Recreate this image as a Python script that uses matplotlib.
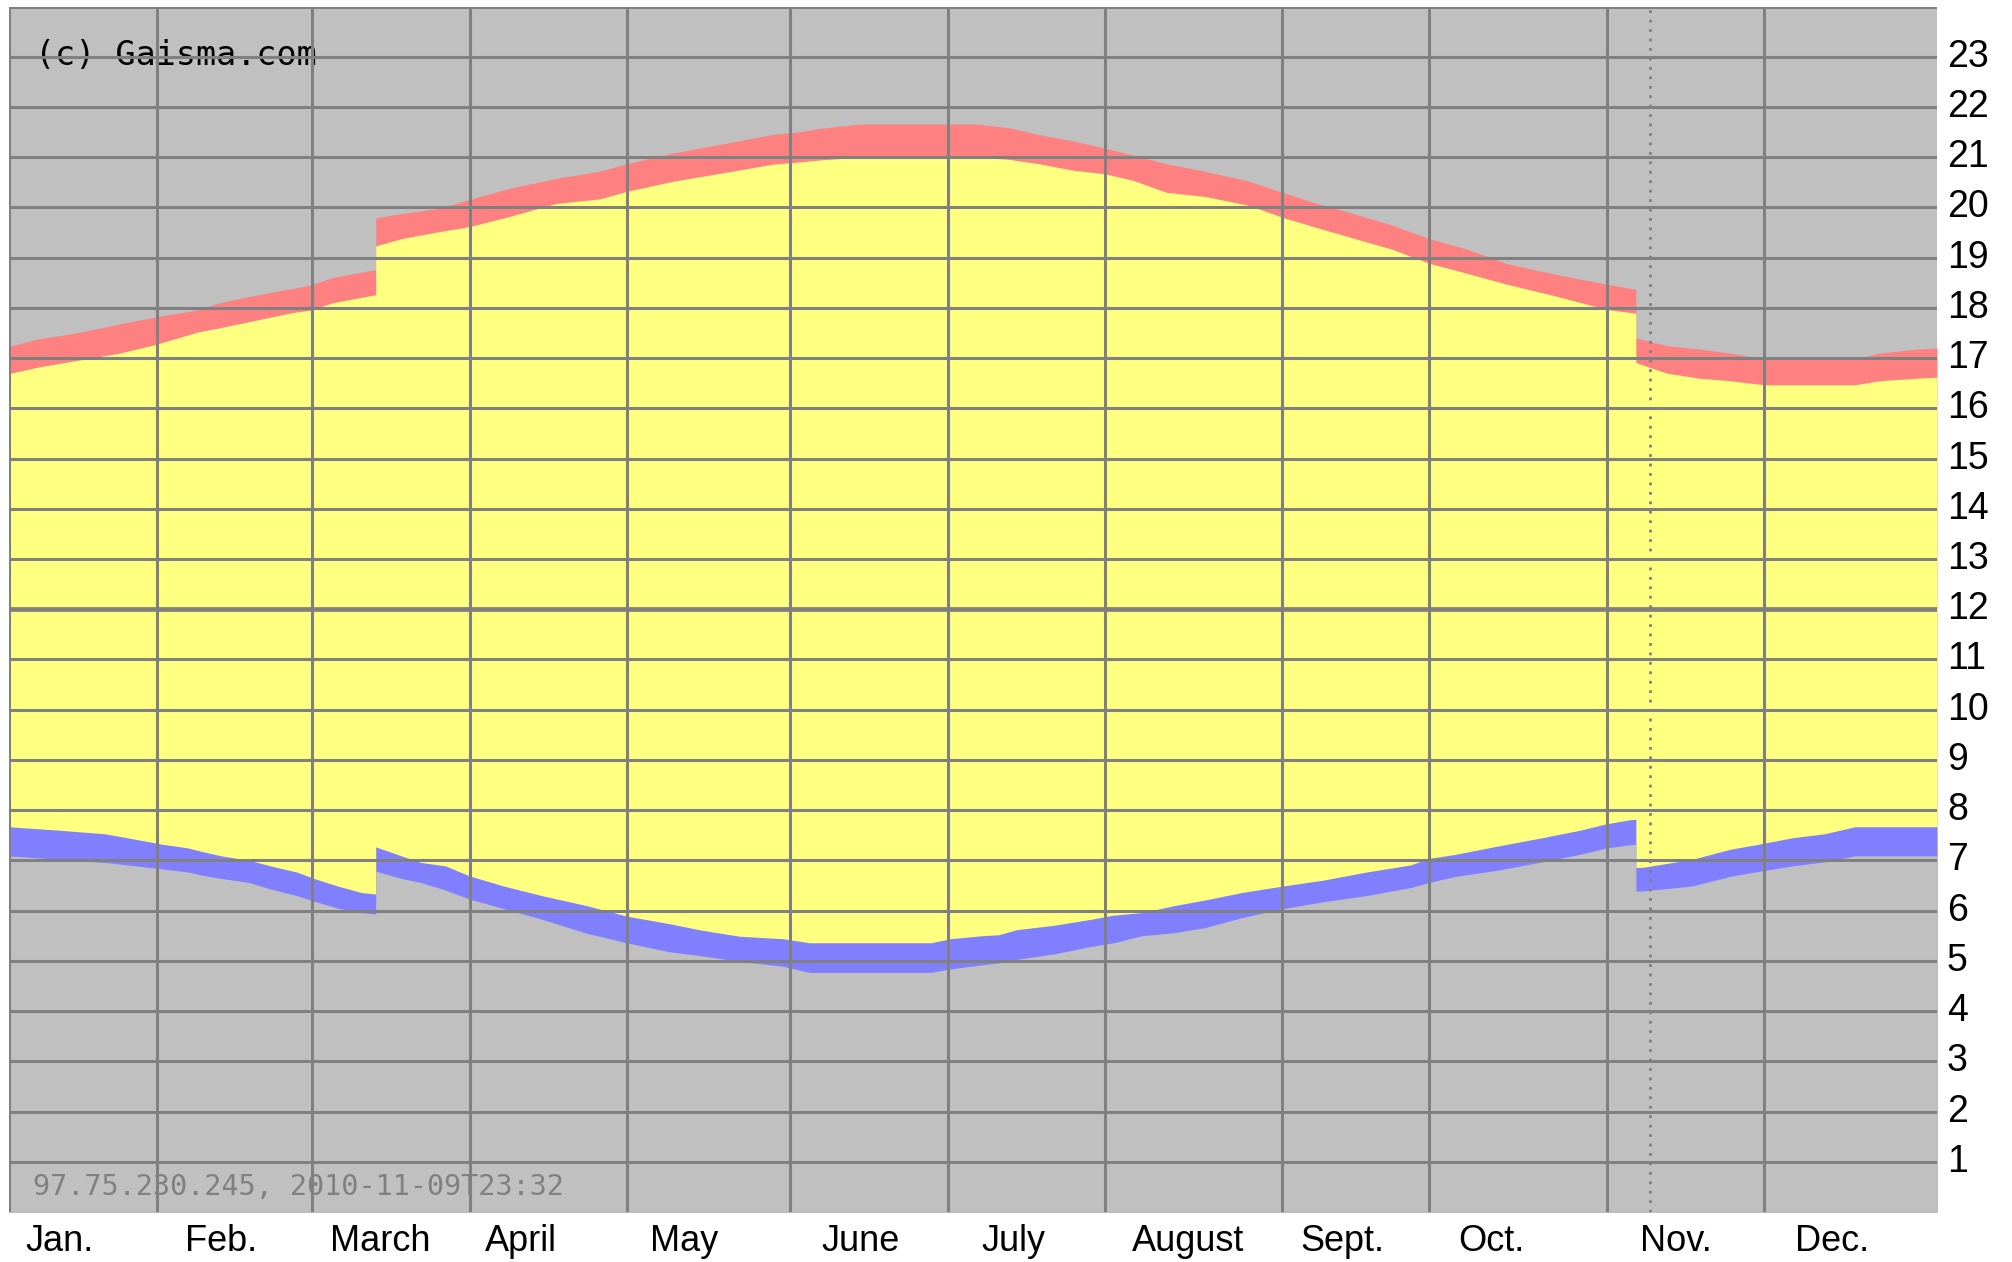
import numpy as np
import matplotlib
matplotlib.use("Agg")
import matplotlib.pyplot as plt
import matplotlib.transforms as mtransforms

# day-of-year positions (as drawn on the chart) and times in hours
top_days = [0, 5.5, 13.3, 21.0, 27.8, 35.8, 39.8, 46.2, 53.4, 57.4, 61.2, 68.3, 69.5,
            69.5, 70.0, 74.4, 81.6, 87.3, 94.8, 103.7, 111.9, 117.0, 125.7, 136.9, 144.5,
            149.2, 154.1, 161.3, 172.5, 183.1, 189.1, 195.0, 201.6, 207.5, 212.8, 219.2,
            226.4, 234.8, 241.2, 247.6, 254.8, 261.8, 268.8, 276.0, 283.6, 292.7, 302.5,
            307.5, 308.0, 308.0, 308.6, 313.9, 320.0, 325.8, 332.2, 349.5, 354.2, 361.2, 365]
dusk = [17.23, 17.38, 17.51, 17.68, 17.82, 17.96, 18.10, 18.24, 18.38, 18.46, 18.60, 18.74, 18.76,
        19.78, 19.80, 19.88, 19.98, 20.16, 20.38, 20.58, 20.72, 20.87, 21.08, 21.30, 21.45,
        21.50, 21.58, 21.66, 21.66, 21.66, 21.59, 21.45, 21.32, 21.18, 21.04, 20.87,
        20.72, 20.52, 20.30, 20.08, 19.87, 19.65, 19.38, 19.17, 18.88, 18.67, 18.47,
        18.38, 18.37, 17.40, 17.38, 17.25, 17.18, 17.10, 16.99, 16.99, 17.10, 17.18, 17.20]
sunset = [16.69, 16.82, 16.96, 17.10, 17.27, 17.52, 17.60, 17.74, 17.90, 17.96, 18.10, 18.24, 18.26,
          19.23, 19.25, 19.38, 19.52, 19.62, 19.82, 20.08, 20.17, 20.32, 20.52, 20.72, 20.86,
          20.90, 20.95, 21.00, 21.00, 21.00, 20.96, 20.87, 20.74, 20.67, 20.54, 20.30,
          20.22, 20.04, 19.80, 19.60, 19.38, 19.17, 18.89, 18.69, 18.47, 18.24, 17.97,
          17.90, 17.89, 16.91, 16.89, 16.70, 16.60, 16.55, 16.47, 16.47, 16.55, 16.60, 16.62]

bot_days = [0, 9.7, 18.2, 22.5, 29.2, 33.9, 36.9, 40.3, 45.6, 49.6, 54.5, 58.1, 62.3, 66.8, 69.5,
            69.5, 70.0, 74.4, 78.0, 82.7, 87.3, 93.7, 100.9, 109.4, 117.0, 125.1, 131.2, 138.4,
            146.7, 151.6, 174.6, 178.2, 184.2, 187.4, 190.8, 198.0, 205.0, 209.2, 214.5, 220.6,
            226.4, 233.4, 241.2, 249.0, 257.1, 265.4, 268.8, 273.8, 282.1, 290.2, 297.4, 302.5,
            306.9, 308.0, 308.0, 309.2, 313.9, 318.6, 325.8, 330.6, 337.6, 343.7, 349.5, 365]
sunrise = [7.67, 7.60, 7.53, 7.45, 7.32, 7.25, 7.17, 7.09, 7.00, 6.89, 6.77, 6.63, 6.49, 6.36, 6.33,
           7.27, 7.25, 7.09, 6.96, 6.89, 6.69, 6.49, 6.30, 6.10, 5.89, 5.74, 5.61, 5.49,
           5.44, 5.36, 5.36, 5.44, 5.50, 5.52, 5.62, 5.71, 5.83, 5.91, 5.96, 6.10,
           6.21, 6.36, 6.49, 6.61, 6.77, 6.91, 7.04, 7.12, 7.29, 7.45, 7.60, 7.73,
           7.81, 7.82, 6.86, 6.86, 6.94, 7.02, 7.22, 7.31, 7.45, 7.53, 7.67, 7.67]
dawn = [7.09, 7.02, 6.96, 6.91, 6.83, 6.77, 6.70, 6.64, 6.56, 6.43, 6.30, 6.18, 6.05, 5.96, 5.93,
        6.79, 6.77, 6.64, 6.56, 6.41, 6.23, 6.04, 5.83, 5.55, 5.36, 5.18, 5.10, 4.99,
        4.89, 4.77, 4.77, 4.84, 4.92, 4.96, 5.03, 5.14, 5.29, 5.36, 5.50, 5.56,
        5.66, 5.86, 6.04, 6.18, 6.30, 6.46, 6.56, 6.68, 6.81, 6.97, 7.12, 7.25,
        7.31, 7.32, 6.39, 6.39, 6.44, 6.49, 6.68, 6.77, 6.89, 6.97, 7.09, 7.09]

month_edges = [0, 28.2, 57.5, 87.3, 117.0, 148.0, 177.8, 207.5, 241.0, 268.8, 302.5, 332.2]
month_names = ["Jan.", "Feb.", "March", "April", "May", "June", "July", "August",
               "Sept.", "Oct.", "Nov.", "Dec."]
month_label_pos = [9.7, 40.3, 70.4, 97.0, 127.8, 161.3, 190.3, 223.3, 252.4, 280.6, 315.6, 345.1]
hours = list(range(1, 24))
today = 310.7

GRAY = "#C0C0C0"
GRID = "#808080"

fig = plt.figure(figsize=(20.12, 12.62), dpi=100)
fig.patch.set_facecolor("white")
W, H = 2012, 1262
ax = fig.add_axes([8.5 / W, 50 / H, (1937 - 8.5) / W, (1212 - 6.5) / H])
ax.set_facecolor(GRAY)
ax.set_xlim(0, 365)
ax.set_ylim(0, 24)

# bands: dusk (red), sunset (yellow), sunrise (blue), dawn (gray)
ax.fill_between(top_days, 0, dusk, color="#FF8080", lw=0, zorder=1)
ax.fill_between(top_days, 0, sunset, color="#FFFF80", lw=0, zorder=1.1)
ax.fill_between(bot_days, 0, sunrise, color="#8080FF", lw=0, zorder=1.2)
ax.fill_between(bot_days, 0, dawn, color=GRAY, lw=0, zorder=1.3)

for h in hours + [24]:
    ax.axhline(h, color=GRID, lw=3.4 if h == 12 else 2.2, zorder=3)
for m in month_edges:
    ax.axvline(m, color=GRID, lw=2.2, zorder=3)
ax.axvline(today, color=GRID, lw=2.0, dashes=(1, 2.4), zorder=3)

for s in ax.spines.values():
    s.set_visible(False)
ax.set_xticks([])
ax.set_yticks([])

# right hour labels
tr_r = mtransforms.blended_transform_factory(ax.transAxes, ax.transData)
for h in hours:
    ax.text(1 + 10 / 1928, h, str(h), transform=tr_r, ha="left", va="center",
            fontsize=27, family="Liberation Sans", color="black", clip_on=False)

# month labels
tr_b = mtransforms.blended_transform_factory(ax.transData, ax.transAxes)
for name, pos in zip(month_names, month_label_pos):
    ax.text(pos, -30 / 1206, name, transform=tr_b, ha="center", va="center",
            fontsize=26, family="Liberation Sans", color="black", clip_on=False)

ax.text(26 / 1928, 1 - 49 / 1206, "(c) Gaisma.com", transform=ax.transAxes,
        ha="left", va="center", fontsize=24, family="DejaVu Sans Mono", color="black", zorder=2)
ax.text(24 / 1928, 25 / 1206, "97.75.230.245, 2010-11-09T23:32", transform=ax.transAxes,
        ha="left", va="center", fontsize=20.5, family="DejaVu Sans Mono", color="#808080", zorder=2)

fig.savefig("out.png", dpi=100)
